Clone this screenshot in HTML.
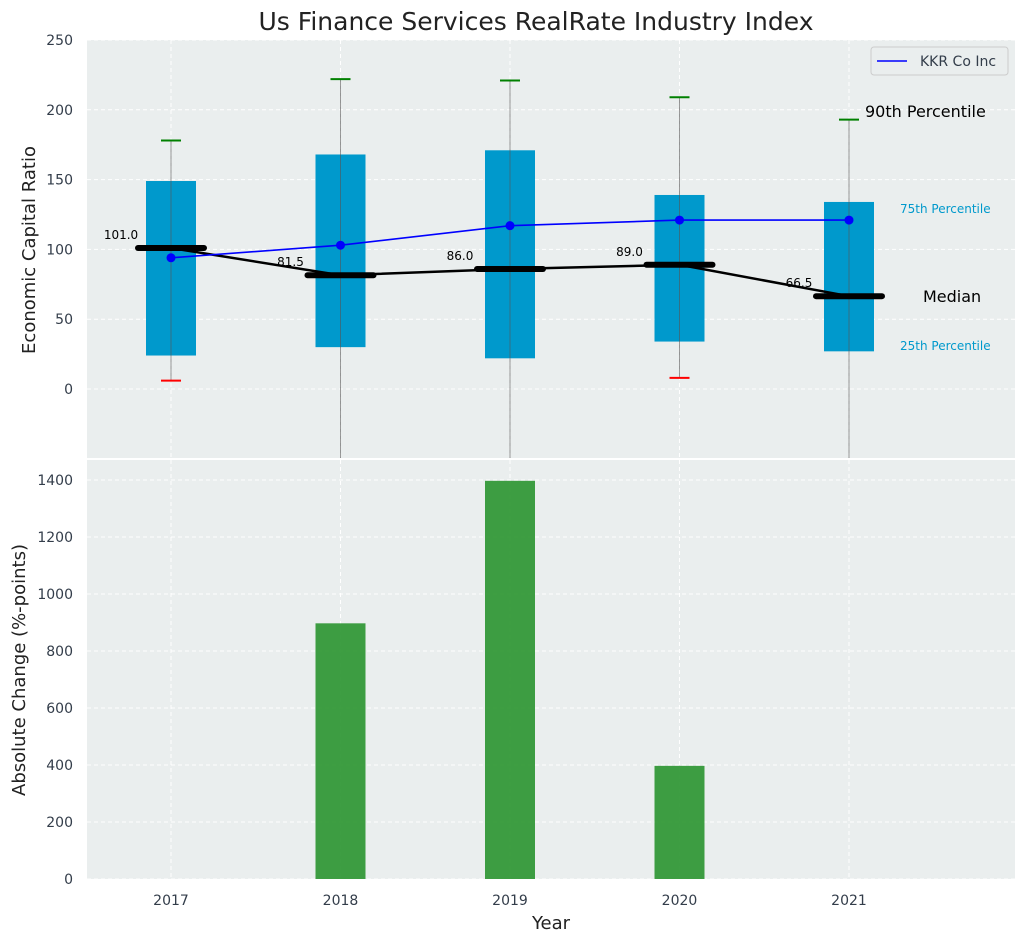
<!DOCTYPE html>
<html><head><meta charset="utf-8"><style>
body{margin:0;background:#fff;font-family:"DejaVu Sans","Liberation Sans",sans-serif}
</style></head><body>
<svg id="c" width="1026" height="942" xmlns="http://www.w3.org/2000/svg"></svg>
<script>
const years=[2017,2018,2019,2020,2021];
const p25=[24,30,22,34,27];
const p75=[149,168,171,139,134];
const p90=[178,222,221,209,193];
const p10=[6,-60,-60,8,-60];
const medians=[101,81.5,86,89,66.5];
const kkr=[94,103,117,121,121];
const changes=[0,897,1397,397,0];
const topTicks=[0,50,100,150,200,250];
const botTicks=[0,200,400,600,800,1000,1200,1400];

const svg=document.getElementById('c');
const NS='http://www.w3.org/2000/svg';
function el(t,a,txt){const e=document.createElementNS(NS,t);for(const k in a)e.setAttribute(k,a[k]);if(txt!==undefined)e.textContent=txt;svg.appendChild(e);return e;}
const X0=87,X1=1015;
const x=v=>171+(v-2017)*169.5;
const T0=40,T1=458,B0=460,B1=879;
const yT=v=>T1-(v+49.4)/(250+49.4)*(T1-T0);
const yB=v=>B1-v/1470*(B1-B0);
const clampT=v=>Math.max(T0,Math.min(T1,yT(v)));

let e;
e=el('rect',{x:X0,y:T0,width:X1-X0,height:T1-T0,fill:'#eaeeee'});

e=el('rect',{x:X0,y:B0,width:X1-X0,height:B1-B0,fill:'#eaeeee'});


years.forEach(yr=>{
 el('line',{x1:x(yr),x2:x(yr),y1:T0,y2:T1,stroke:'#fff','stroke-dasharray':'4,3','stroke-width':1});
 el('line',{x1:x(yr),x2:x(yr),y1:B0,y2:B1,stroke:'#fff','stroke-dasharray':'4,3','stroke-width':1});
 e=el('text',{x:x(yr),y:905,'text-anchor':'middle','font-size':14,fill:'#333d4a'},yr);
 
});
topTicks.forEach(t=>{
 el('line',{x1:X0,x2:X1,y1:yT(t),y2:yT(t),stroke:'#fff','stroke-dasharray':'4,3'});
 e=el('text',{x:73,y:yT(t)+5,'text-anchor':'end','font-size':14,fill:'#333d4a'},t);
 
});
botTicks.forEach(t=>{
 el('line',{x1:X0,x2:X1,y1:yB(t),y2:yB(t),stroke:'#fff','stroke-dasharray':'4,3'});
 e=el('text',{x:73,y:yB(t)+5,'text-anchor':'end','font-size':14,fill:'#333d4a'},t);
 
});

const hw=25;
years.forEach((yr,i)=>{
 const cx=x(yr);
 e=el('rect',{x:cx-hw,y:yT(p75[i]),width:2*hw,height:yT(p25[i])-yT(p75[i]),fill:'#0099cc'});
 
 e=el('line',{x1:cx,x2:cx,y1:clampT(p10[i]),y2:yT(p90[i]),stroke:'#555','stroke-opacity':0.6,'stroke-width':1});
 
 e=el('line',{x1:cx-10,x2:cx+10,y1:yT(p90[i]),y2:yT(p90[i]),stroke:'green','stroke-width':2});
 
 if(p10[i]>-49){e=el('line',{x1:cx-10,x2:cx+10,y1:yT(p10[i]),y2:yT(p10[i]),stroke:'red','stroke-width':2});
 }
});
e=el('polyline',{points:years.map((yr,i)=>x(yr)+','+yT(medians[i])).join(' '),fill:'none',stroke:'#000','stroke-width':2.5});

years.forEach((yr,i)=>{
 e=el('line',{x1:x(yr)-33,x2:x(yr)+33,y1:yT(medians[i]),y2:yT(medians[i]),stroke:'#000','stroke-width':6,'stroke-linecap':'round'});
 
 e=el('text',{x:x(yr)-50,y:yT(medians[i])-9,'text-anchor':'middle','font-size':12,fill:'#000'},medians[i].toFixed(1));
 
});
e=el('polyline',{points:years.map((yr,i)=>x(yr)+','+yT(kkr[i])).join(' '),fill:'none',stroke:'#0000ff','stroke-width':1.6});

years.forEach((yr,i)=>{e=el('circle',{cx:x(yr),cy:yT(kkr[i]),r:4.5,fill:'#0000ff'});
 });

[['90th Percentile',865,117,16,'#000'],['75th Percentile',900,213,12,'#0099cc'],['Median',923,302,16,'#000'],['25th Percentile',900,350,12,'#0099cc']].forEach(a=>{
 e=el('text',{x:a[1],y:a[2],'font-size':a[3],fill:a[4]},a[0]);
 
});

e=el('rect',{x:871,y:47,width:137,height:28,rx:3,fill:'#eaeeee',stroke:'#ccc'});

el('line',{x1:877,x2:907,y1:61,y2:61,stroke:'#0000ff','stroke-width':1.6});
e=el('text',{x:920,y:66,'font-size':14,fill:'#333d4a'},'KKR Co Inc');


years.forEach((yr,i)=>{
 if(changes[i]<=0)return;
 e=el('rect',{x:x(yr)-hw,y:yB(changes[i]),width:2*hw,height:yB(0)-yB(changes[i]),fill:'#2e9633','fill-opacity':0.92});
 
});

e=el('text',{x:536,y:30,'text-anchor':'middle','font-size':25,fill:'#222'},'Us Finance Services RealRate Industry Index');

e=el('text',{x:0,y:0,'text-anchor':'middle','font-size':18,fill:'#222',transform:'translate(35,250) rotate(-90)'},'Economic Capital Ratio');

e=el('text',{x:0,y:0,'text-anchor':'middle','font-size':18,fill:'#222',transform:'translate(25,670) rotate(-90)'},'Absolute Change (%-points)');

e=el('text',{x:551,y:929,'text-anchor':'middle','font-size':18,fill:'#222'},'Year');

</script>
</body></html>
